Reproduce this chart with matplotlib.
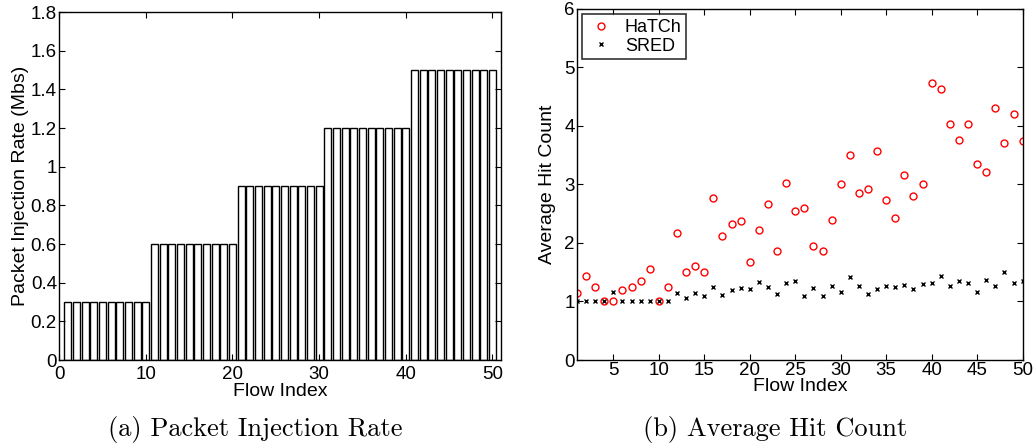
import numpy as np
import matplotlib
matplotlib.use("Agg")
import matplotlib.pyplot as plt

plt.rcParams['font.family'] = 'Liberation Sans'
plt.rcParams['xtick.direction'] = 'in'
plt.rcParams['ytick.direction'] = 'in'

# flows 1..50
flows = np.arange(1, 51)
# injection rate per flow (Mbs)
rate = [0.3] * 10 + [0.6] * 10 + [0.9] * 10 + [1.2] * 10 + [1.5] * 10

hatch_hits = [1.14, 1.43, 1.25, 1.0, 1.0, 1.2, 1.25, 1.35, 1.56, 1.0,
              1.25, 2.17, 1.50, 1.60, 1.50, 2.77, 2.12, 2.33, 2.38, 1.67,
              2.22, 2.67, 1.86, 3.03, 2.55, 2.59, 1.94, 1.87, 2.39, 3.0,
              3.50, 2.85, 2.93, 3.57, 2.74, 2.43, 3.17, 2.80, 3.0, 4.73,
              4.63, 4.04, 3.76, 4.03, 3.35, 3.22, 4.31, 3.71, 4.21, 3.74]
sred_hits = [1.0, 1.0, 1.0, 1.0, 1.16, 1.0, 1.0, 1.0, 1.0, 1.0,
             1.0, 1.14, 1.06, 1.14, 1.09, 1.25, 1.11, 1.2, 1.23, 1.21,
             1.34, 1.24, 1.12, 1.31, 1.35, 1.10, 1.23, 1.10, 1.26, 1.16,
             1.41, 1.26, 1.13, 1.21, 1.26, 1.25, 1.29, 1.22, 1.30, 1.31,
             1.43, 1.26, 1.35, 1.31, 1.16, 1.36, 1.26, 1.50, 1.32, 1.35]

fig = plt.figure(figsize=(10.34, 4.45), dpi=100)

# (a) bar chart
ax1 = fig.add_axes([0.0571, 0.191, 0.4275, 0.782])
ax1.bar(flows, rate, width=0.8, color='white', edgecolor='black', linewidth=1.0)
ax1.set_xlim(0, 51)
ax1.set_ylim(0, 1.8)
ax1.set_xticks([0, 10, 20, 30, 40, 50])
ax1.set_yticks(np.arange(0, 1.81, 0.2))
ax1.set_yticklabels(['0', '0.2', '0.4', '0.6', '0.8', '1', '1.2', '1.4', '1.6', '1.8'])
ax1.set_xlabel('Flow Index', fontsize=14, labelpad=0)
ax1.set_ylabel('Packet Injection Rate (Mbs)', fontsize=14, labelpad=1)
ax1.tick_params(labelsize=13.5, top=True, right=True, length=4, pad=1.5)
ax1.tick_params(axis='x', pad=4)

# (b) scatter
ax2 = fig.add_axes([0.558, 0.191, 0.431, 0.789])
ax2.plot(flows, hatch_hits, 'o', markerfacecolor='none', markeredgecolor='red',
         markersize=5, markeredgewidth=1.0, label='HaTCh')
ax2.plot(flows, sred_hits, 'x', color='black', markersize=3.2,
         markeredgewidth=1.0, label='SRED')
ax2.set_xlim(1, 50)
ax2.set_ylim(0, 6)
ax2.set_xticks(np.arange(5, 51, 5))
ax2.set_yticks(range(0, 7))
ax2.set_xlabel('Flow Index', fontsize=14, labelpad=-1)
ax2.set_ylabel('Average Hit Count', fontsize=14, labelpad=6)
ax2.tick_params(labelsize=13.5, top=True, right=True, length=4, pad=1.5)
leg = ax2.legend(loc='upper left', fontsize=13, fancybox=False, edgecolor='black',
                 borderaxespad=0.3, handletextpad=0.5, borderpad=0.25,
                 labelspacing=0.1, handlelength=1.6)
leg.get_frame().set_linewidth(1.2)

for ax in (ax1, ax2):
    for s in ax.spines.values():
        s.set_linewidth(1.0)

fig.text(0.247, 0.02, '(a) Packet Injection Rate', fontsize=19,
         family=['cmr10', 'DejaVu Serif'], ha='center')
fig.text(0.75, 0.02, '(b) Average Hit Count', fontsize=19,
         family=['cmr10', 'DejaVu Serif'], ha='center')

fig.savefig('out.png', dpi=100)
